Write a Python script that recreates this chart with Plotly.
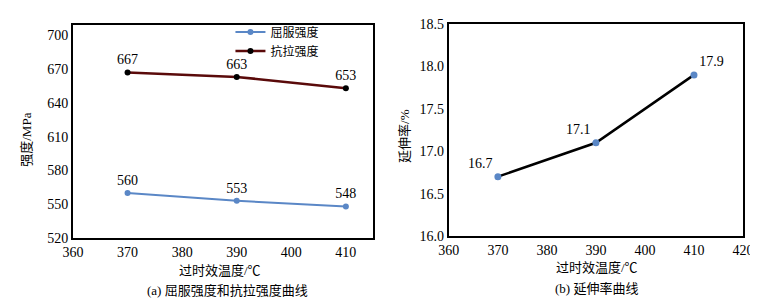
import plotly.graph_objects as go

temps = [370, 390, 410]
yield_strength = [560, 553, 548]
tensile_strength = [667, 663, 653]
elongation = [16.7, 17.1, 17.9]

serif = "Liberation Serif, Times New Roman, serif"
cjk = "Liberation Serif, Noto Sans CJK SC"

fig = go.Figure()
fig.add_trace(go.Scatter(
    x=temps, y=yield_strength, mode="lines+markers+text", name="屈服强度",
    line=dict(color="#5a87c6", width=2), marker=dict(color="#5a87c6", size=6),
    text=[str(v) for v in yield_strength], textposition="top center",
    textfont=dict(family=serif, size=14, color="black"),
    xaxis="x", yaxis="y"))
fig.add_trace(go.Scatter(
    x=temps, y=tensile_strength, mode="lines+markers+text", name="抗拉强度",
    line=dict(color="#5a0a0a", width=2.5), marker=dict(color="black", size=6),
    text=[str(v) for v in tensile_strength], textposition="top center",
    textfont=dict(family=serif, size=14, color="black"),
    xaxis="x", yaxis="y"))
fig.add_trace(go.Scatter(
    x=temps, y=elongation, mode="lines+markers+text", showlegend=False,
    line=dict(color="black", width=2.5), marker=dict(color="#5a87c6", size=7),
    text=[f"{v:.1f}" for v in elongation],
    textposition=["top left", "top left", "top right"],
    textfont=dict(family=serif, size=14, color="black"),
    xaxis="x2", yaxis="y2"))

axis_common = dict(showline=True, linecolor="black", linewidth=2, mirror=True,
                   showgrid=False, zeroline=False, ticks="", automargin=False,
                   tickfont=dict(family=serif, size=14, color="black"))

def ann(text, x, y, angle=0):
    return dict(text=text, x=x, y=y, xref="paper", yref="paper", textangle=angle,
                xanchor="center", yanchor="middle", showarrow=False,
                font=dict(family=cjk, size=13, color="black"))

fig.update_layout(
    width=750, height=298,
    margin=dict(l=65, r=15, t=16, b=68, autoexpand=False),
    paper_bgcolor="white", plot_bgcolor="white",
    showlegend=True,
    legend=dict(x=0.235, y=1.03, xanchor="left", yanchor="top",
                bgcolor="rgba(0,0,0,0)", font=dict(family=cjk, size=12, color="black"),
                tracegroupgap=0, itemwidth=30),
    xaxis=dict(domain=[0.0, 0.448], range=[360, 415], tickvals=[360, 370, 380, 390, 400, 410],
               anchor="y", **axis_common),
    yaxis=dict(domain=[0.0, 0.995], range=[520, 709], tickvals=[520, 550, 580, 610, 640, 670, 700],
               anchor="x", **axis_common),
    xaxis2=dict(domain=[0.561, 1.0], range=[360, 420], tickvals=[360, 370, 380, 390, 400, 410, 420],
                anchor="y2", **axis_common),
    yaxis2=dict(domain=[0.009, 1.0], range=[16.0, 18.5],
                tickvals=[16.0, 16.5, 17.0, 17.5, 18.0, 18.5], tickformat=".1f",
                anchor="x2", **axis_common),
    annotations=[
        ann("强度/MPa", -0.069, 0.458, -90),
        ann("过时效温度/℃", 0.219, -0.15),
        ann("(a) 屈服强度和抗拉强度曲线", 0.231, -0.243),
        ann("延伸率/%", 0.4955, 0.477, -90),
        ann("过时效温度/℃", 0.782, -0.14),
        ann("(b) 延伸率曲线", 0.782, -0.238),
    ],
)

fig.write_html("out.html")
